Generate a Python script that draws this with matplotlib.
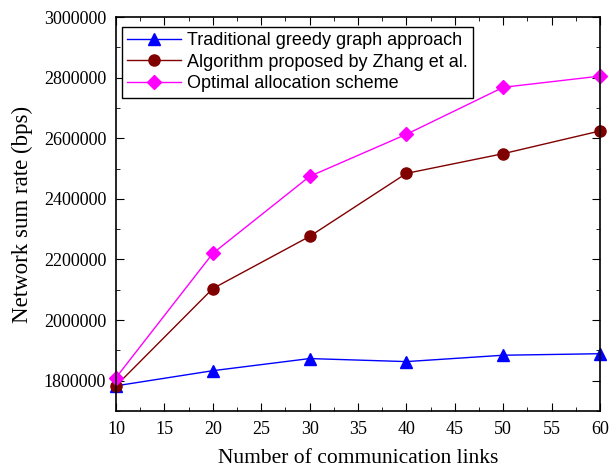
import matplotlib.pyplot as plt
from matplotlib.ticker import MultipleLocator, FormatStrFormatter

links = [10, 20, 30, 40, 50, 60]
greedy = [1783000, 1833000, 1873000, 1863000, 1884000, 1889000]
zhang = [1783000, 2104000, 2276000, 2484000, 2549000, 2624000]
optimal = [1810000, 2220000, 2474000, 2613000, 2768000, 2805000]

fig = plt.figure(figsize=(6.16, 4.70), dpi=100)
ax = fig.add_axes([116 / 616, 1 - 411 / 470, 484 / 616, 394 / 470])

ax.plot(links, greedy, color='blue', marker='^', markersize=8, lw=1,
        label='Traditional greedy graph approach', clip_on=False)
ax.plot(links, zhang, color='#800000', marker='o', markersize=8, lw=1,
        label='Algorithm proposed by Zhang et al.', clip_on=False)
ax.plot(links, optimal, color='magenta', marker='D', markersize=7, lw=1,
        label='Optimal allocation scheme', clip_on=False)

ax.set_xlim(10, 60)
ax.set_ylim(1700000, 3000000)
ax.xaxis.set_major_locator(MultipleLocator(5))
ax.xaxis.set_minor_locator(MultipleLocator(2.5))
ax.yaxis.set_major_locator(MultipleLocator(200000))
ax.yaxis.set_minor_locator(MultipleLocator(100000))
ax.yaxis.set_major_formatter(FormatStrFormatter('%d'))
ax.tick_params(which='both', direction='in', top=True, right=True,
               labelsize=13, pad=7)
ax.tick_params(which='major', length=6)
ax.tick_params(which='minor', length=3)
for lab in ax.get_xticklabels() + ax.get_yticklabels():
    lab.set_fontfamily('Liberation Serif')
for s in ax.spines.values():
    s.set_linewidth(1.2)

ax.set_xlabel('Number of communication links', fontsize=15.5,
              family='Liberation Serif', labelpad=8)
ax.set_ylabel('Network sum rate (bps)', fontsize=16.5,
              family='Liberation Serif', labelpad=8)

leg = ax.legend(loc='upper left', bbox_to_anchor=(0.012, 0.975),
                borderaxespad=0,
                prop={'family': 'Liberation Sans', 'size': 13},
                fancybox=False, edgecolor='black', framealpha=1,
                borderpad=0.3, labelspacing=0.25, handlelength=3,
                handletextpad=0.3)
leg.get_frame().set_linewidth(1)

fig.savefig('out.png', dpi=100)
